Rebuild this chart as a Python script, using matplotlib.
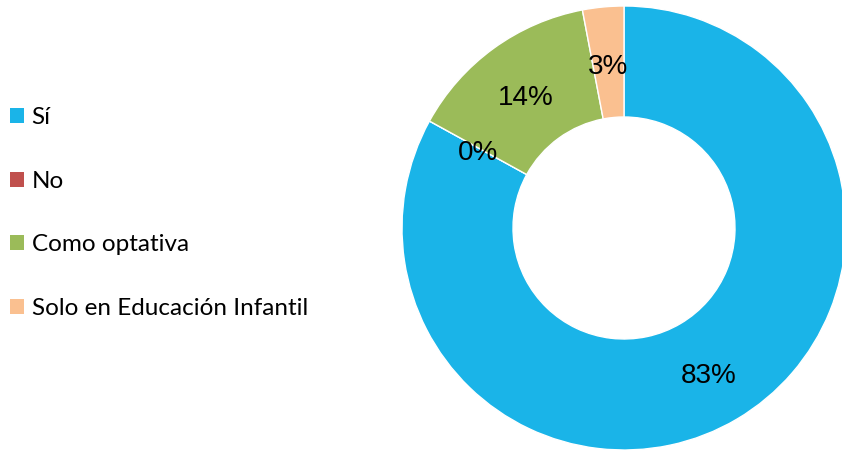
import matplotlib
matplotlib.use("Agg")
import matplotlib.pyplot as plt
from matplotlib.patches import Patch

categories = ["Sí", "No", "Como optativa", "Solo en Educación Infantil"]
values = [83, 0, 14, 3]
colors = ["#1AB4E8", "#C0504D", "#9BBB59", "#FAC090"]

fig = plt.figure(figsize=(8.42, 4.5), dpi=100)
ax = fig.add_axes([402 / 842, 0, 444 / 842, 444 / 450])

wedges, texts, autotexts = ax.pie(
    values,
    colors=colors,
    startangle=90,
    counterclock=False,
    radius=1.0,
    autopct="%.0f%%",
    pctdistance=0.75,
    wedgeprops=dict(width=0.5, edgecolor="white", linewidth=1),
    textprops=dict(fontsize=20, family="Liberation Sans", color="black"),
)
# labels sit a touch lower than the geometric middle of the ring
for t in autotexts:
    x, y = t.get_position()
    t.set_position((x, y - 0.022))

ax.set_xlim(-1, 1)
ax.set_ylim(-1, 1)
ax.set_aspect("equal")
ax.axis("off")

handles = [Patch(facecolor=c, edgecolor="none") for c in colors]
fig.legend(
    handles,
    categories,
    loc="upper left",
    bbox_to_anchor=(3 / 842, 1 - 100 / 450),
    frameon=False,
    prop=dict(family="Lato", size=17.5),
    handlelength=0.58,
    handleheight=0.58,
    handletextpad=0.3,
    labelspacing=1.75,
    borderaxespad=0,
    borderpad=0.3,
)

fig.savefig("out.png", dpi=100)
